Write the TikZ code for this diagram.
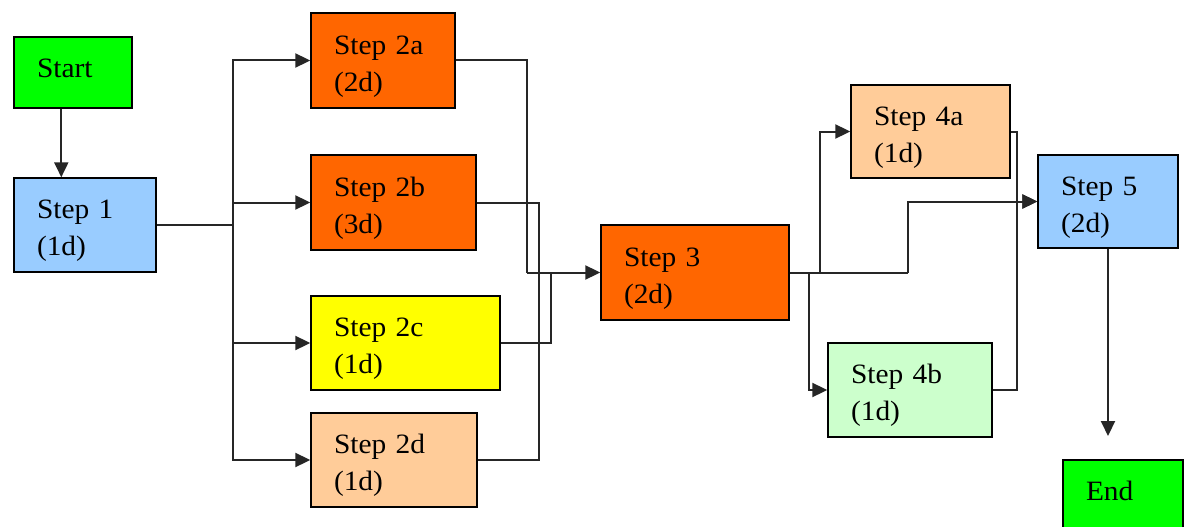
\documentclass[tikz,border=0pt]{standalone}
\usepackage{fontspec}
\setmainfont{Liberation Serif}[FakeStretch=1.05]
\usetikzlibrary{arrows.meta,calc}
\definecolor{cgreen}{HTML}{00FF00}
\definecolor{cblue}{HTML}{99CCFF}
\definecolor{corange}{HTML}{FF6600}
\definecolor{cyellow}{HTML}{FFFF00}
\definecolor{cpeach}{HTML}{FFCC99}
\definecolor{cmint}{HTML}{CCFFCC}
% box labels: shifted without changing the box size used for centring
\newcommand{\twolines}[2]{\raisebox{-5pt}[\height][\depth]{%
  \begin{tabular}{@{}l@{}}#1\\#2\end{tabular}}}
\newcommand{\oneline}[1]{\raisebox{4.5pt}[\height][\depth]{#1}}
\tikzset{
  box/.style n args={3}{draw=black, line width=1.4pt, fill=#1, rectangle,
    minimum width=#2, minimum height=#3, text width=#2-46pt,
    inner xsep=23pt, inner ysep=0pt, align=left,
    font=\fontsize{28}{37}\selectfont},
  link/.style={draw=black!85, line width=2pt},
  arr/.style={link, -{Triangle[length=15pt,width=14pt]}},
}
\begin{document}
\begin{tikzpicture}[x=1pt, y=-1pt]
\clip (0,0) rectangle (1191,527);
\fill[white] (0,0) rectangle (1191,527);

% process boxes
\node[box={cgreen}{118pt}{71pt}]   (start) at (73,72.5)    {\oneline{Start}};
\node[box={cblue}{142pt}{94pt}]    (s1)    at (85,225)     {\twolines{Step 1}{(1d)}};
\node[box={corange}{144pt}{95pt}]  (s2a)   at (383,60.5)   {\twolines{Step 2a}{(2d)}};
\node[box={corange}{165pt}{95pt}]  (s2b)   at (393.5,202.5){\twolines{Step 2b}{(3d)}};
\node[box={cyellow}{189pt}{94pt}]  (s2c)   at (405.5,343)  {\twolines{Step 2c}{(1d)}};
\node[box={cpeach}{166pt}{94pt}]   (s2d)   at (394,460)    {\twolines{Step 2d}{(1d)}};
\node[box={corange}{188pt}{95pt}]  (s3)    at (695,272.5)  {\twolines{Step 3}{(2d)}};
\node[box={cpeach}{159pt}{93pt}]   (s4a)   at (930.5,131.5){\twolines{Step 4a}{(1d)}};
\node[box={cmint}{164pt}{94pt}]    (s4b)   at (910,390)    {\twolines{Step 4b}{(1d)}};
\node[box={cblue}{140pt}{93pt}]    (s5)    at (1108,201.5) {\twolines{Step 5}{(2d)}};
\node[box={cgreen}{120pt}{70pt}]   (end)   at (1123,495)   {\oneline{End}};

% junction points
\coordinate (j1) at (233,225);
\coordinate (m1) at (527,272.5);
\coordinate (m2) at (539,272.5);
\coordinate (m3) at (551,272.5);
\coordinate (b1) at (820,272.5);
\coordinate (b2) at (809,272.5);
\coordinate (b3) at (908,272.5);
\coordinate (c1) at (1017,201.5);
\coordinate (e1) at (1108,436);

% start to step 1
\draw[arr] ($(start.south west)+(48,0)$) -- ($(s1.north west)+(48,0)$);

% step 1 fans out
\draw[link] (s1.east) -- (j1);
\draw[arr] (j1) |- (s2a.west);
\draw[arr] (j1) |- (s2b.west);
\draw[arr] (j1) |- (s2c.west);
\draw[arr] (j1) |- (s2d.west);

% step 2 joins into step 3
\draw[link] (s2a.east) -| (m1);
\draw[link] (s2b.east) -| (m2);
\draw[link] (s2d.east) -| (m2);
\draw[link] (s2c.east) -| (m3);
\draw[arr] (m1) -- (s3.west);

% step 3 fans out
\draw[link] (s3.east) -- (b3);
\draw[arr] (b1) |- (s4a.west);
\draw[arr] (b2) |- (s4b.west);
\draw[arr] (b3) |- (s5.west);

% step 4 joins into step 5
\draw[link] (s4a.east) -| (c1);
\draw[link] (s4b.east) -| (c1);
\draw[arr] (c1) -- (s5.west);

% step 5 to end
\draw[arr] (s5.south) -- (e1);
\end{tikzpicture}
\end{document}
